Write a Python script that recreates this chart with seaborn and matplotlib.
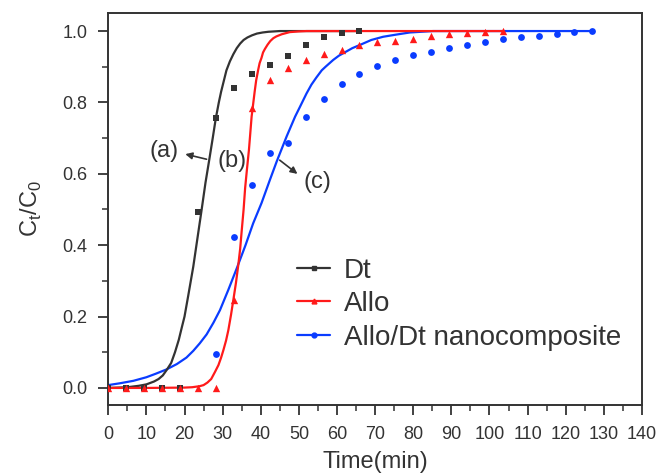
import matplotlib
matplotlib.use("Agg")
import matplotlib.pyplot as plt
from matplotlib.lines import Line2D
from matplotlib.ticker import MultipleLocator
import seaborn as sns

# measured points (time in min, Ct/C0)
t_dt = [0, 4.7, 9.4, 14.1, 18.8, 23.5, 28.2, 33.0, 37.7, 42.4, 47.1, 51.8, 56.5, 61.2, 65.9]
y_dt = [0, 0, 0, 0, 0, 0.494, 0.756, 0.841, 0.881, 0.906, 0.931, 0.962, 0.982, 0.994, 1.0]

t_allo = [0, 4.7, 9.4, 14.1, 18.8, 23.5, 28.2, 33.0, 37.7, 42.4, 47.1, 51.8, 56.5,
          61.2, 65.9, 70.6, 75.3, 80.0, 84.7, 89.4, 94.1, 98.8, 103.5]
y_allo = [0, 0, 0, 0, 0, 0, 0, 0.246, 0.783, 0.863, 0.897, 0.92, 0.937,
          0.947, 0.961, 0.968, 0.972, 0.979, 0.987, 0.993, 0.995, 0.997, 1.0]

t_nano = [28.2, 33.0, 37.7, 42.4, 47.1, 51.8, 56.5, 61.2, 65.9, 70.6, 75.3, 80.0, 84.7,
          89.4, 94.1, 98.8, 103.5, 108.2, 112.9, 117.6, 122.3, 127.0]
y_nano = [0.094, 0.424, 0.569, 0.657, 0.685, 0.758, 0.81, 0.852, 0.881, 0.902, 0.918, 0.932, 0.942,
          0.953, 0.96, 0.968, 0.978, 0.982, 0.986, 0.991, 0.997, 1.0]

# fitted curves
fx_dt = [0, 5, 8, 10, 12, 13.2, 14.3, 15.3, 16.5, 17.5, 18.5, 19.3, 20, 21, 22.3, 23.4, 24.5, 25.5,
         26.5, 27.4, 28.2, 29, 29.6, 30.3, 31, 31.9, 32.8, 33.7, 34.6, 35.5, 36.5, 37.7, 39, 40.5,
         42, 45, 55, 66]
fy_dt = [0, 0.002, 0.006, 0.01, 0.018, 0.025, 0.035, 0.05, 0.07, 0.1, 0.135, 0.17, 0.2, 0.26, 0.34,
         0.42, 0.5, 0.575, 0.64, 0.7, 0.755, 0.8, 0.83, 0.86, 0.89, 0.915, 0.935, 0.952, 0.965, 0.975,
         0.982, 0.988, 0.993, 0.996, 0.998, 1.0, 1.0, 1.0]

fx_allo = [0, 10, 20, 22, 24, 25, 26, 27, 28, 28.9, 29.6, 30.2, 30.9, 31.5, 32.2, 32.8, 33.5, 34.1,
           34.6, 35, 35.5, 35.9, 36.4, 36.9, 37.3, 37.6, 38, 38.4, 38.8, 39.3, 39.7, 40.2, 40.6, 41.1,
           41.8, 42.5, 43.3, 44.1, 45.5, 47.6, 50, 52, 70, 103.5]
fy_allo = [0, 0, 0.001, 0.002, 0.005, 0.008, 0.015, 0.025, 0.045, 0.064, 0.085, 0.106, 0.133, 0.162,
           0.205, 0.246, 0.295, 0.344, 0.39, 0.44, 0.5, 0.56, 0.615, 0.667, 0.72, 0.76, 0.795, 0.83,
           0.862, 0.89, 0.91, 0.925, 0.94, 0.95, 0.962, 0.972, 0.98, 0.985, 0.991, 0.997, 0.999, 1.0,
           1.0, 1.0]

fx_nano = [0, 3, 6.6, 10, 12.5, 15.3, 18, 20.5, 22.3, 24, 25.8, 27.6, 29.3, 31.5, 33.7, 36, 38, 40.2,
           42.4, 44.2, 45.5, 46.8, 48, 49, 50.3, 52, 53.3, 54.6, 56, 57, 59, 60.5, 62, 64, 66, 69, 72.1,
           75.5, 79.1, 85.2, 100, 127]
fy_nano = [0.008, 0.013, 0.02, 0.03, 0.04, 0.052, 0.067, 0.085, 0.104, 0.125, 0.15, 0.183, 0.218, 0.275,
           0.335, 0.4, 0.461, 0.518, 0.583, 0.635, 0.67, 0.705, 0.735, 0.76, 0.788, 0.825, 0.85, 0.87,
           0.89, 0.9, 0.919, 0.931, 0.94, 0.952, 0.961, 0.975, 0.984, 0.99, 0.996, 1.0, 1.0, 1.0]

labels = ["Dt", "Allo", "Allo/Dt nanocomposite"]
colors = ["#333333", "#ff1a1a", "#0a3cff"]
txt = "#333333"

sns.set_style("ticks")
plt.rcParams["font.family"] = ["Liberation Sans", "DejaVu Sans"]

fig = plt.figure(figsize=(6.61, 4.76), dpi=100)
ax = fig.add_axes([0.1638, 0.149, 0.8074, 0.824])

sns.lineplot(x=fx_nano, y=fy_nano, color=colors[2], lw=1.6, ax=ax)
sns.lineplot(x=fx_dt, y=fy_dt, color=colors[0], lw=1.6, ax=ax)
sns.lineplot(x=fx_allo, y=fy_allo, color=colors[1], lw=1.6, ax=ax)

sns.scatterplot(x=t_dt, y=y_dt, color=colors[0], marker="s", s=22, linewidth=0, ax=ax, zorder=3)
sns.scatterplot(x=t_allo, y=y_allo, color=colors[1], marker="^", s=28, linewidth=0, ax=ax, zorder=3)
sns.scatterplot(x=t_nano, y=y_nano, color=colors[2], marker="o", s=24, linewidth=0, ax=ax, zorder=3)

ax.set_xlim(0, 140)
ax.set_ylim(-0.048, 1.051)
ax.xaxis.set_major_locator(MultipleLocator(10))
ax.xaxis.set_minor_locator(MultipleLocator(5))
ax.yaxis.set_major_locator(MultipleLocator(0.2))
ax.yaxis.set_minor_locator(MultipleLocator(0.1))
ax.yaxis.set_major_formatter(plt.FormatStrFormatter("%.1f"))
ax.tick_params(which="major", direction="out", length=7, width=1.3, colors=txt, labelsize=13, pad=8)
ax.tick_params(which="minor", direction="out", length=4, width=1.1, colors=txt)
for sp in ax.spines.values():
    sp.set_visible(True)
    sp.set_color(txt)
    sp.set_linewidth(1.4)

ax.set_xlabel("Time(min)", fontsize=17, color=txt, labelpad=6)
ax.set_ylabel(r"C$_\mathregular{t}$/C$_\mathregular{0}$", fontsize=17, color=txt, labelpad=13)

# curve annotations
ax.text(14.7, 0.664, "(a)", fontsize=17, color=txt, ha="center", va="center")
ax.text(32.4, 0.637, "(b)", fontsize=17, color=txt, ha="center", va="center")
ax.text(54.9, 0.578, "(c)", fontsize=17, color=txt, ha="center", va="center")
ax.annotate("", xy=(19.5, 0.657), xytext=(26.5, 0.639),
            arrowprops=dict(arrowstyle="-|>", color=txt, lw=1.2, mutation_scale=10))
ax.annotate("", xy=(50.2, 0.595), xytext=(44.4, 0.643),
            arrowprops=dict(arrowstyle="-|>", color=txt, lw=1.2, mutation_scale=10))

handles = [Line2D([], [], color=c, lw=1.6, marker=m, markersize=3.5)
           for c, m in zip(colors, ["s", "^", "o"])]
leg = ax.legend(handles, labels, loc="upper left", bbox_to_anchor=(0.3536, 0.376),
                frameon=False, fontsize=20, handlelength=1.2, handletextpad=0.5,
                labelspacing=0.27, borderaxespad=0, borderpad=0)
for t in leg.get_texts():
    t.set_color(txt)

fig.savefig("out.png", dpi=100)
